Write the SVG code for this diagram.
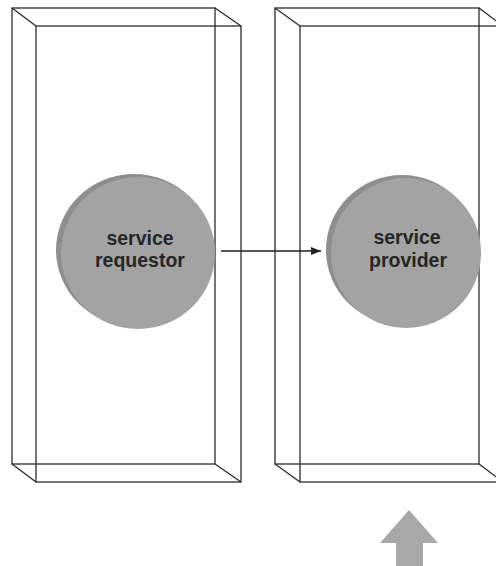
<svg xmlns="http://www.w3.org/2000/svg" width="496" height="566" viewBox="0 0 496 566">
  <style>
    .frame { fill: none; stroke: #2b2b2b; stroke-width: 1.3; }
    .ball-edge { fill: #8e8e8e; }
    .ball { fill: #a3a3a3; }
    .label { font-family: "Liberation Sans", Arial, sans-serif; font-size: 19.5px; font-weight: bold; fill: #262626; text-anchor: middle; }
    .link { stroke: #222; stroke-width: 1.3; fill: none; }
  </style>
  <defs>
    <marker id="head" viewBox="0 0 10 8" refX="10" refY="4" markerWidth="10" markerHeight="8" markerUnits="userSpaceOnUse" orient="auto">
      <path d="M0,0 L10,4 L0,8 Z" fill="#222"/>
    </marker>
  </defs>

  <rect width="496" height="566" fill="#ffffff"/>

  <!-- wireframe container: requestor side -->
  <g id="box-requestor" class="frame">
    <rect x="12" y="8" width="203" height="456"/>
    <rect x="36" y="26" width="205" height="456"/>
    <path d="M12,8 L36,26 M215,8 L241,26 M12,464 L36,482 M215,464 L241,482"/>
  </g>

  <!-- wireframe container: provider side (runs off the right edge) -->
  <g id="box-provider" class="frame">
    <rect x="275" y="8" width="204" height="456"/>
    <rect x="300" y="26" width="210" height="456"/>
    <path d="M275,8 L300,26 M479,8 L503,26 M275,464 L300,482 M479,464 L503,482"/>
  </g>

  <!-- service requestor -->
  <g id="requestor">
    <ellipse class="ball-edge" cx="134" cy="250" rx="78" ry="76"/>
    <ellipse class="ball" cx="138" cy="253" rx="77" ry="76"/>
    <text class="label" x="140" y="245">service</text>
    <text class="label" x="140" y="267">requestor</text>
  </g>

  <!-- service provider -->
  <g id="provider">
    <ellipse class="ball-edge" cx="402" cy="250" rx="76" ry="75"/>
    <ellipse class="ball" cx="406" cy="253" rx="75" ry="75"/>
    <text class="label" x="407" y="244">service</text>
    <text class="label" x="408" y="267">provider</text>
  </g>

  <!-- connectors -->
  <g id="connectors">
    <line class="link" x1="221" y1="251" x2="321" y2="251" marker-end="url(#head)"/>
  </g>

  <!-- incoming block arrow -->
  <polygon fill="#a8a8a8" points="409,510 438,543 423,543 423,566 396,566 396,543 380,543"/>
</svg>
